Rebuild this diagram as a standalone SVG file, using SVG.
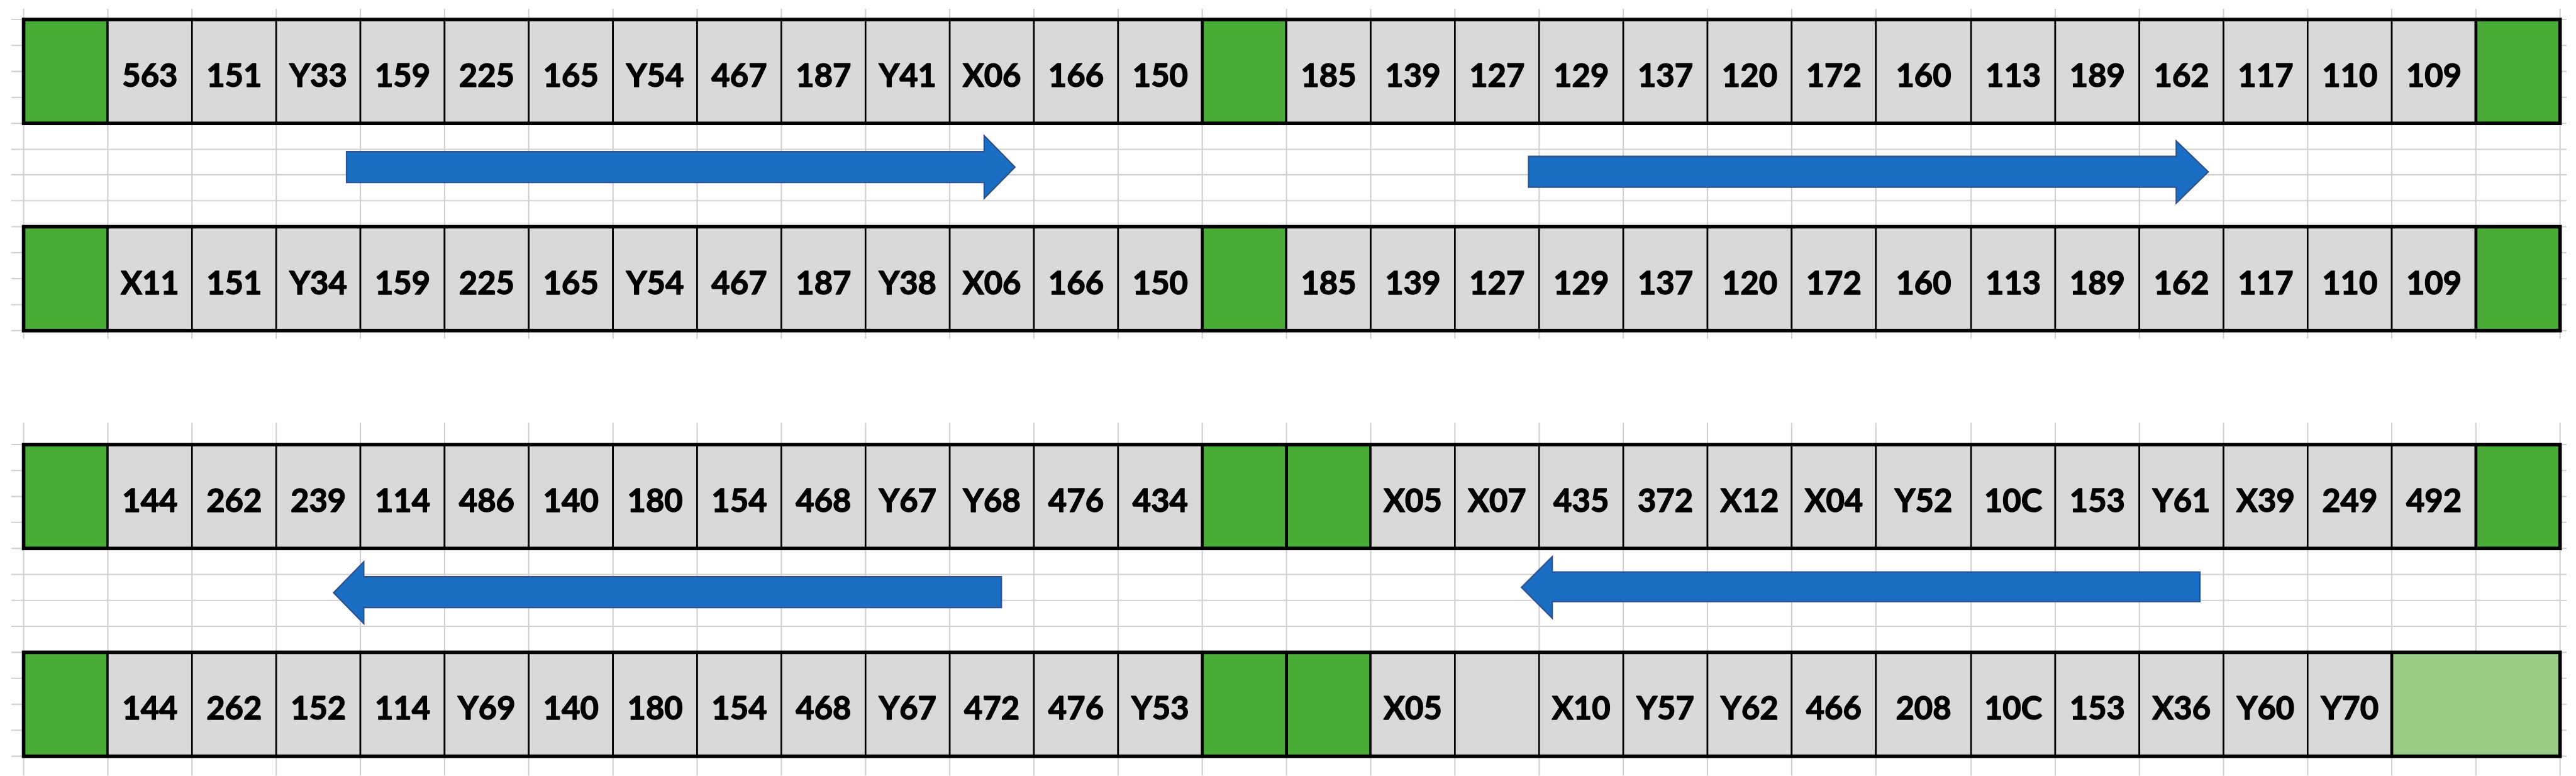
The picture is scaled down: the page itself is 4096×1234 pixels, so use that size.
<svg xmlns="http://www.w3.org/2000/svg" width="4096" height="1234" viewBox="0 0 4096 1234">
<style>
.c{fill:#D9D9D9;stroke:#000;stroke-width:2.8}
.gr{fill:#48AC37;stroke:#000;stroke-width:5}
.lg{fill:#9ACD88;stroke:#000;stroke-width:5}
.t{font-family:Lato,"Liberation Sans",sans-serif;font-weight:700;font-size:54px;text-anchor:middle;fill:#000;stroke:#000;stroke-width:1.6;stroke-linejoin:round}
.frame{fill:none;stroke:#000;stroke-width:6}
.grid{stroke:#D0D0D0;stroke-width:2.2;fill:none}
.arrow{fill:#1A6FC4;stroke:#2F528F;stroke-width:2.5;stroke-linejoin:miter}
</style>
<rect width="4096" height="1234" fill="#fff"/>
<g transform="scale(0.93880)">
<g id="gridlines">
<path class="grid" d="M40 15V574M182.6 15V574M325.2 15V574M467.8 15V574M610.4 15V574M753 15V574M895.6 15V574M1038.2 15V574M1180.8 15V574M1323.4 15V574M1466 15V574M1608.6 15V574M1751.2 15V574M1893.8 15V574M2036.4 15V574M2179 15V574M2321.6 15V574M2464.2 15V574M2606.8 15V574M2749.4 15V574M2892 15V574M3034.6 15V574M3177.2 15V574M3338.5 15V574M3481 15V574M3623.5 15V574M3766 15V574M3908.5 15V574M4051 15V574M4193.5 15V574M4336 15V574
M19 33H4347M19 77H4347M19 121H4347M19 165H4347M19 209H4347M19 253H4347M19 296H4347M19 340H4347M19 384H4347M19 428H4347M19 472H4347M19 516H4347M19 560H4347"/>
<path class="grid" d="M40 716V1314M182.6 716V1314M325.2 716V1314M467.8 716V1314M610.4 716V1314M753 716V1314M895.6 716V1314M1038.2 716V1314M1180.8 716V1314M1323.4 716V1314M1466 716V1314M1608.6 716V1314M1751.2 716V1314M1893.8 716V1314M2036.4 716V1314M2179 716V1314M2321.6 716V1314M2464.2 716V1314M2606.8 716V1314M2749.4 716V1314M2892 716V1314M3034.6 716V1314M3177.2 716V1314M3338.5 716V1314M3481 716V1314M3623.5 716V1314M3766 716V1314M3908.5 716V1314M4051 716V1314M4193.5 716V1314M4336 716V1314
M19 753H4347M19 797H4347M19 841H4347M19 885H4347M19 929H4347M19 973H4347M19 1017H4347M19 1061H4347M19 1105H4347M19 1149H4347M19 1193H4347M19 1237H4347M19 1281H4347"/>
</g>

<g id="row1" transform="translate(0,33)">
<g id="r1c0"><rect class="gr" x="40" width="142.6" height="176"/></g>
<g id="r1c1"><rect class="c" x="182.6" width="142.6" height="176"/><text class="t" x="253.9" y="114">563</text></g>
<g id="r1c2"><rect class="c" x="325.2" width="142.6" height="176"/><text class="t" x="396.5" y="114">151</text></g>
<g id="r1c3"><rect class="c" x="467.8" width="142.6" height="176"/><text class="t" x="539.1" y="114">Y33</text></g>
<g id="r1c4"><rect class="c" x="610.4" width="142.6" height="176"/><text class="t" x="681.7" y="114">159</text></g>
<g id="r1c5"><rect class="c" x="753" width="142.6" height="176"/><text class="t" x="824.3" y="114">225</text></g>
<g id="r1c6"><rect class="c" x="895.6" width="142.6" height="176"/><text class="t" x="966.9" y="114">165</text></g>
<g id="r1c7"><rect class="c" x="1038.2" width="142.6" height="176"/><text class="t" x="1109.5" y="114">Y54</text></g>
<g id="r1c8"><rect class="c" x="1180.8" width="142.6" height="176"/><text class="t" x="1252.1" y="114">467</text></g>
<g id="r1c9"><rect class="c" x="1323.4" width="142.6" height="176"/><text class="t" x="1394.7" y="114">187</text></g>
<g id="r1c10"><rect class="c" x="1466" width="142.6" height="176"/><text class="t" x="1537.3" y="114">Y41</text></g>
<g id="r1c11"><rect class="c" x="1608.6" width="142.6" height="176"/><text class="t" x="1679.9" y="114">X06</text></g>
<g id="r1c12"><rect class="c" x="1751.2" width="142.6" height="176"/><text class="t" x="1822.5" y="114">166</text></g>
<g id="r1c13"><rect class="c" x="1893.8" width="142.6" height="176"/><text class="t" x="1965.1" y="114">150</text></g>
<g id="r1c14"><rect class="gr" x="2036.4" width="142.6" height="176"/></g>
<g id="r1c15"><rect class="c" x="2179" width="142.6" height="176"/><text class="t" x="2250.3" y="114">185</text></g>
<g id="r1c16"><rect class="c" x="2321.6" width="142.6" height="176"/><text class="t" x="2392.9" y="114">139</text></g>
<g id="r1c17"><rect class="c" x="2464.2" width="142.6" height="176"/><text class="t" x="2535.5" y="114">127</text></g>
<g id="r1c18"><rect class="c" x="2606.8" width="142.6" height="176"/><text class="t" x="2678.1" y="114">129</text></g>
<g id="r1c19"><rect class="c" x="2749.4" width="142.6" height="176"/><text class="t" x="2820.7" y="114">137</text></g>
<g id="r1c20"><rect class="c" x="2892" width="142.6" height="176"/><text class="t" x="2963.3" y="114">120</text></g>
<g id="r1c21"><rect class="c" x="3034.6" width="142.6" height="176"/><text class="t" x="3105.9" y="114">172</text></g>
<g id="r1c22"><rect class="c" x="3177.2" width="161.3" height="176"/><text class="t" x="3257.9" y="114">160</text></g>
<g id="r1c23"><rect class="c" x="3338.5" width="142.5" height="176"/><text class="t" x="3409.8" y="114">113</text></g>
<g id="r1c24"><rect class="c" x="3481" width="142.5" height="176"/><text class="t" x="3552.3" y="114">189</text></g>
<g id="r1c25"><rect class="c" x="3623.5" width="142.5" height="176"/><text class="t" x="3694.8" y="114">162</text></g>
<g id="r1c26"><rect class="c" x="3766" width="142.5" height="176"/><text class="t" x="3837.3" y="114">117</text></g>
<g id="r1c27"><rect class="c" x="3908.5" width="142.5" height="176"/><text class="t" x="3979.8" y="114">110</text></g>
<g id="r1c28"><rect class="c" x="4051" width="142.5" height="176"/><text class="t" x="4122.3" y="114">109</text></g>
<g id="r1c29"><rect class="gr" x="4193.5" width="142.5" height="176"/></g>
<rect class="frame" x="40" width="4296" height="176"/>
</g>

<g id="row2" transform="translate(0,384)">
<g id="r2c0"><rect class="gr" x="40" width="142.6" height="176"/></g>
<g id="r2c1"><rect class="c" x="182.6" width="142.6" height="176"/><text class="t" x="253.9" y="114">X11</text></g>
<g id="r2c2"><rect class="c" x="325.2" width="142.6" height="176"/><text class="t" x="396.5" y="114">151</text></g>
<g id="r2c3"><rect class="c" x="467.8" width="142.6" height="176"/><text class="t" x="539.1" y="114">Y34</text></g>
<g id="r2c4"><rect class="c" x="610.4" width="142.6" height="176"/><text class="t" x="681.7" y="114">159</text></g>
<g id="r2c5"><rect class="c" x="753" width="142.6" height="176"/><text class="t" x="824.3" y="114">225</text></g>
<g id="r2c6"><rect class="c" x="895.6" width="142.6" height="176"/><text class="t" x="966.9" y="114">165</text></g>
<g id="r2c7"><rect class="c" x="1038.2" width="142.6" height="176"/><text class="t" x="1109.5" y="114">Y54</text></g>
<g id="r2c8"><rect class="c" x="1180.8" width="142.6" height="176"/><text class="t" x="1252.1" y="114">467</text></g>
<g id="r2c9"><rect class="c" x="1323.4" width="142.6" height="176"/><text class="t" x="1394.7" y="114">187</text></g>
<g id="r2c10"><rect class="c" x="1466" width="142.6" height="176"/><text class="t" x="1537.3" y="114">Y38</text></g>
<g id="r2c11"><rect class="c" x="1608.6" width="142.6" height="176"/><text class="t" x="1679.9" y="114">X06</text></g>
<g id="r2c12"><rect class="c" x="1751.2" width="142.6" height="176"/><text class="t" x="1822.5" y="114">166</text></g>
<g id="r2c13"><rect class="c" x="1893.8" width="142.6" height="176"/><text class="t" x="1965.1" y="114">150</text></g>
<g id="r2c14"><rect class="gr" x="2036.4" width="142.6" height="176"/></g>
<g id="r2c15"><rect class="c" x="2179" width="142.6" height="176"/><text class="t" x="2250.3" y="114">185</text></g>
<g id="r2c16"><rect class="c" x="2321.6" width="142.6" height="176"/><text class="t" x="2392.9" y="114">139</text></g>
<g id="r2c17"><rect class="c" x="2464.2" width="142.6" height="176"/><text class="t" x="2535.5" y="114">127</text></g>
<g id="r2c18"><rect class="c" x="2606.8" width="142.6" height="176"/><text class="t" x="2678.1" y="114">129</text></g>
<g id="r2c19"><rect class="c" x="2749.4" width="142.6" height="176"/><text class="t" x="2820.7" y="114">137</text></g>
<g id="r2c20"><rect class="c" x="2892" width="142.6" height="176"/><text class="t" x="2963.3" y="114">120</text></g>
<g id="r2c21"><rect class="c" x="3034.6" width="142.6" height="176"/><text class="t" x="3105.9" y="114">172</text></g>
<g id="r2c22"><rect class="c" x="3177.2" width="161.3" height="176"/><text class="t" x="3257.9" y="114">160</text></g>
<g id="r2c23"><rect class="c" x="3338.5" width="142.5" height="176"/><text class="t" x="3409.8" y="114">113</text></g>
<g id="r2c24"><rect class="c" x="3481" width="142.5" height="176"/><text class="t" x="3552.3" y="114">189</text></g>
<g id="r2c25"><rect class="c" x="3623.5" width="142.5" height="176"/><text class="t" x="3694.8" y="114">162</text></g>
<g id="r2c26"><rect class="c" x="3766" width="142.5" height="176"/><text class="t" x="3837.3" y="114">117</text></g>
<g id="r2c27"><rect class="c" x="3908.5" width="142.5" height="176"/><text class="t" x="3979.8" y="114">110</text></g>
<g id="r2c28"><rect class="c" x="4051" width="142.5" height="176"/><text class="t" x="4122.3" y="114">109</text></g>
<g id="r2c29"><rect class="gr" x="4193.5" width="142.5" height="176"/></g>
<rect class="frame" x="40" width="4296" height="176"/>
</g>

<g id="row3" transform="translate(0,753)">
<g id="r3c0"><rect class="gr" x="40" width="142.6" height="176"/></g>
<g id="r3c1"><rect class="c" x="182.6" width="142.6" height="176"/><text class="t" x="253.9" y="114">144</text></g>
<g id="r3c2"><rect class="c" x="325.2" width="142.6" height="176"/><text class="t" x="396.5" y="114">262</text></g>
<g id="r3c3"><rect class="c" x="467.8" width="142.6" height="176"/><text class="t" x="539.1" y="114">239</text></g>
<g id="r3c4"><rect class="c" x="610.4" width="142.6" height="176"/><text class="t" x="681.7" y="114">114</text></g>
<g id="r3c5"><rect class="c" x="753" width="142.6" height="176"/><text class="t" x="824.3" y="114">486</text></g>
<g id="r3c6"><rect class="c" x="895.6" width="142.6" height="176"/><text class="t" x="966.9" y="114">140</text></g>
<g id="r3c7"><rect class="c" x="1038.2" width="142.6" height="176"/><text class="t" x="1109.5" y="114">180</text></g>
<g id="r3c8"><rect class="c" x="1180.8" width="142.6" height="176"/><text class="t" x="1252.1" y="114">154</text></g>
<g id="r3c9"><rect class="c" x="1323.4" width="142.6" height="176"/><text class="t" x="1394.7" y="114">468</text></g>
<g id="r3c10"><rect class="c" x="1466" width="142.6" height="176"/><text class="t" x="1537.3" y="114">Y67</text></g>
<g id="r3c11"><rect class="c" x="1608.6" width="142.6" height="176"/><text class="t" x="1679.9" y="114">Y68</text></g>
<g id="r3c12"><rect class="c" x="1751.2" width="142.6" height="176"/><text class="t" x="1822.5" y="114">476</text></g>
<g id="r3c13"><rect class="c" x="1893.8" width="142.6" height="176"/><text class="t" x="1965.1" y="114">434</text></g>
<g id="r3c14"><rect class="gr" x="2036.4" width="142.6" height="176"/></g>
<g id="r3c15"><rect class="gr" x="2179" width="142.6" height="176"/></g>
<g id="r3c16"><rect class="c" x="2321.6" width="142.6" height="176"/><text class="t" x="2392.9" y="114">X05</text></g>
<g id="r3c17"><rect class="c" x="2464.2" width="142.6" height="176"/><text class="t" x="2535.5" y="114">X07</text></g>
<g id="r3c18"><rect class="c" x="2606.8" width="142.6" height="176"/><text class="t" x="2678.1" y="114">435</text></g>
<g id="r3c19"><rect class="c" x="2749.4" width="142.6" height="176"/><text class="t" x="2820.7" y="114">372</text></g>
<g id="r3c20"><rect class="c" x="2892" width="142.6" height="176"/><text class="t" x="2963.3" y="114">X12</text></g>
<g id="r3c21"><rect class="c" x="3034.6" width="142.6" height="176"/><text class="t" x="3105.9" y="114">X04</text></g>
<g id="r3c22"><rect class="c" x="3177.2" width="161.3" height="176"/><text class="t" x="3257.9" y="114">Y52</text></g>
<g id="r3c23"><rect class="c" x="3338.5" width="142.5" height="176"/><text class="t" x="3409.8" y="114">10C</text></g>
<g id="r3c24"><rect class="c" x="3481" width="142.5" height="176"/><text class="t" x="3552.3" y="114">153</text></g>
<g id="r3c25"><rect class="c" x="3623.5" width="142.5" height="176"/><text class="t" x="3694.8" y="114">Y61</text></g>
<g id="r3c26"><rect class="c" x="3766" width="142.5" height="176"/><text class="t" x="3837.3" y="114">X39</text></g>
<g id="r3c27"><rect class="c" x="3908.5" width="142.5" height="176"/><text class="t" x="3979.8" y="114">249</text></g>
<g id="r3c28"><rect class="c" x="4051" width="142.5" height="176"/><text class="t" x="4122.3" y="114">492</text></g>
<g id="r3c29"><rect class="gr" x="4193.5" width="142.5" height="176"/></g>
<rect class="frame" x="40" width="4296" height="176"/>
</g>

<g id="row4" transform="translate(0,1105)">
<g id="r4c0"><rect class="gr" x="40" width="142.6" height="176"/></g>
<g id="r4c1"><rect class="c" x="182.6" width="142.6" height="176"/><text class="t" x="253.9" y="114">144</text></g>
<g id="r4c2"><rect class="c" x="325.2" width="142.6" height="176"/><text class="t" x="396.5" y="114">262</text></g>
<g id="r4c3"><rect class="c" x="467.8" width="142.6" height="176"/><text class="t" x="539.1" y="114">152</text></g>
<g id="r4c4"><rect class="c" x="610.4" width="142.6" height="176"/><text class="t" x="681.7" y="114">114</text></g>
<g id="r4c5"><rect class="c" x="753" width="142.6" height="176"/><text class="t" x="824.3" y="114">Y69</text></g>
<g id="r4c6"><rect class="c" x="895.6" width="142.6" height="176"/><text class="t" x="966.9" y="114">140</text></g>
<g id="r4c7"><rect class="c" x="1038.2" width="142.6" height="176"/><text class="t" x="1109.5" y="114">180</text></g>
<g id="r4c8"><rect class="c" x="1180.8" width="142.6" height="176"/><text class="t" x="1252.1" y="114">154</text></g>
<g id="r4c9"><rect class="c" x="1323.4" width="142.6" height="176"/><text class="t" x="1394.7" y="114">468</text></g>
<g id="r4c10"><rect class="c" x="1466" width="142.6" height="176"/><text class="t" x="1537.3" y="114">Y67</text></g>
<g id="r4c11"><rect class="c" x="1608.6" width="142.6" height="176"/><text class="t" x="1679.9" y="114">472</text></g>
<g id="r4c12"><rect class="c" x="1751.2" width="142.6" height="176"/><text class="t" x="1822.5" y="114">476</text></g>
<g id="r4c13"><rect class="c" x="1893.8" width="142.6" height="176"/><text class="t" x="1965.1" y="114">Y53</text></g>
<g id="r4c14"><rect class="gr" x="2036.4" width="142.6" height="176"/></g>
<g id="r4c15"><rect class="gr" x="2179" width="142.6" height="176"/></g>
<g id="r4c16"><rect class="c" x="2321.6" width="142.6" height="176"/><text class="t" x="2392.9" y="114">X05</text></g>
<g id="r4c17"><rect class="c" x="2464.2" width="142.6" height="176"/></g>
<g id="r4c18"><rect class="c" x="2606.8" width="142.6" height="176"/><text class="t" x="2678.1" y="114">X10</text></g>
<g id="r4c19"><rect class="c" x="2749.4" width="142.6" height="176"/><text class="t" x="2820.7" y="114">Y57</text></g>
<g id="r4c20"><rect class="c" x="2892" width="142.6" height="176"/><text class="t" x="2963.3" y="114">Y62</text></g>
<g id="r4c21"><rect class="c" x="3034.6" width="142.6" height="176"/><text class="t" x="3105.9" y="114">466</text></g>
<g id="r4c22"><rect class="c" x="3177.2" width="161.3" height="176"/><text class="t" x="3257.9" y="114">208</text></g>
<g id="r4c23"><rect class="c" x="3338.5" width="142.5" height="176"/><text class="t" x="3409.8" y="114">10C</text></g>
<g id="r4c24"><rect class="c" x="3481" width="142.5" height="176"/><text class="t" x="3552.3" y="114">153</text></g>
<g id="r4c25"><rect class="c" x="3623.5" width="142.5" height="176"/><text class="t" x="3694.8" y="114">X36</text></g>
<g id="r4c26"><rect class="c" x="3766" width="142.5" height="176"/><text class="t" x="3837.3" y="114">Y60</text></g>
<g id="r4c27"><rect class="c" x="3908.5" width="142.5" height="176"/><text class="t" x="3979.8" y="114">Y70</text></g>
<g id="r4c28"><rect class="lg" x="4051" width="285" height="176"/></g>
<rect class="frame" x="40" width="4296" height="176"/>
</g>

<g id="connectors">
<polygon id="arrow1" class="arrow" points="587,257 1667,257 1667,230 1719,283 1667,336 1667,309 587,309"/>
<polygon id="arrow2" class="arrow" points="2589,265 3686,265 3686,239 3740,291 3686,344 3686,317 2589,317"/>
<polygon id="arrow3" class="arrow" points="565,1004 616,952 616,977 1696,977 1696,1029 616,1029 616,1056"/>
<polygon id="arrow4" class="arrow" points="2577,995 2629,943 2629,969 3726,969 3726,1019 2629,1019 2629,1047"/>
</g>
</g>
</svg>
